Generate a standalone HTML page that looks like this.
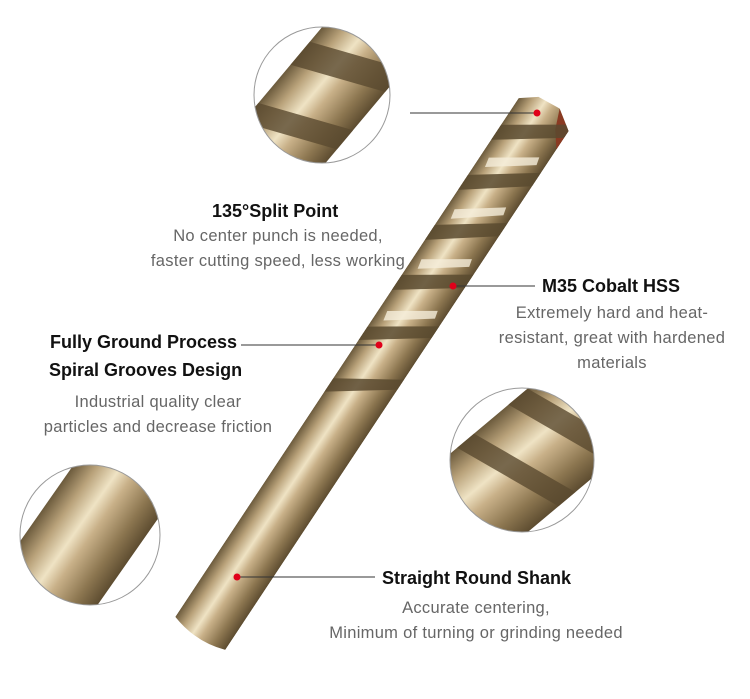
<!DOCTYPE html>
<html><head><meta charset="utf-8"><style>
html,body{margin:0;padding:0;background:#fff;}
body{width:750px;height:699px;position:relative;overflow:hidden;font-family:"Liberation Sans",Arial,sans-serif;}
.t{position:absolute;font-weight:bold;font-size:18px;color:#111;white-space:nowrap;}
.g{position:absolute;font-size:16.5px;color:#666;white-space:nowrap;line-height:25px;letter-spacing:0.3px;}
</style></head><body>
<svg width="750" height="699" style="position:absolute;left:0;top:0">
<defs>
<linearGradient id="sh" x1="0" x2="1" y1="0" y2="0">
<stop offset="0" stop-color="#6b5a3c"/><stop offset="0.2" stop-color="#b9a27a"/>
<stop offset="0.4" stop-color="#efe3c4"/><stop offset="0.55" stop-color="#c8b088"/>
<stop offset="0.8" stop-color="#8c7650"/><stop offset="1" stop-color="#5d4c30"/>
</linearGradient>
<clipPath id="c1"><circle cx="322" cy="95" r="68"/></clipPath>
<clipPath id="c2"><circle cx="90" cy="535" r="70"/></clipPath>
<clipPath id="c3"><circle cx="522" cy="460" r="72"/></clipPath>
<clipPath id="dr"><path d="M-14,-4 L10,-6 L30,8 L30,630 Q0,640 -30,630 L-30,8 Z"/></clipPath>
</defs>
<g transform="translate(548,108) rotate(33.5)">
<g clip-path="url(#dr)">
<rect x="-30" y="-10" width="60" height="650" fill="url(#sh)"/>
<path d="M10,-6 L30,8 L30,30 L18,14 Z" fill="#8a3a22"/>
<g fill="#5a4a30" opacity="0.85">
<path d="M-30,40 L30,0 L30,16 L-30,58 Z"/>
<path d="M-30,100 L30,58 L30,74 L-30,118 Z"/>
<path d="M-30,160 L30,118 L30,134 L-30,178 Z"/>
<path d="M-30,220 L30,180 L30,196 L-30,238 Z"/>
<path d="M-30,282 L30,242 L30,256 L-30,298 Z"/>
<path d="M-30,344 L30,306 L30,318 L-30,360 Z"/>
</g>
<g fill="#f6eedb" opacity="0.8">
<path d="M-22,74 L20,46 L22,54 L-20,84 Z"/>
<path d="M-22,136 L20,106 L22,114 L-20,146 Z"/>
<path d="M-22,196 L20,168 L22,176 L-20,206 Z"/>
<path d="M-22,258 L20,230 L22,238 L-20,268 Z"/>
</g>
</g>
</g>
<g clip-path="url(#c1)">
<g transform="translate(370,40) rotate(40)"><rect x="-45" y="-30" width="90" height="250" fill="url(#sh)"/>
<path d="M-45,40 L45,0 L45,30 L-45,70 Z" fill="#5a4a30" opacity="0.8"/>
<path d="M-45,120 L45,80 L45,105 L-45,145 Z" fill="#5a4a30" opacity="0.8"/>
<path d="M20,-30 L45,-30 L45,20 L25,5 Z" fill="#8a3a22"/></g>
</g>
<circle cx="322" cy="95" r="68" fill="none" stroke="#999" stroke-width="1"/>
<g clip-path="url(#c2)">
<g transform="translate(110,500) rotate(35)"><rect x="-50" y="-200" width="100" height="400" fill="url(#sh)"/></g>
</g>
<circle cx="90" cy="535" r="70" fill="none" stroke="#999" stroke-width="1"/>
<g clip-path="url(#c3)">
<g transform="translate(540,450) rotate(50)"><rect x="-55" y="-200" width="110" height="400" fill="url(#sh)"/>
<path d="M-55,-30 L55,-70 L55,-45 L-55,-5 Z" fill="#5a4a30" opacity="0.8"/>
<path d="M-55,40 L55,0 L55,22 L-55,62 Z" fill="#5a4a30" opacity="0.8"/></g>
</g>
<circle cx="522" cy="460" r="72" fill="none" stroke="#999" stroke-width="1"/>
<g stroke="#333" stroke-width="1">
<line x1="410" y1="113" x2="537" y2="113"/>
<line x1="453" y1="286" x2="535" y2="286"/>
<line x1="241" y1="345" x2="378" y2="345"/>
<line x1="237" y1="577" x2="375" y2="577"/>
</g>
<g fill="#e0001a">
<circle cx="537" cy="113" r="3.5"/><circle cx="453" cy="286" r="3.5"/>
<circle cx="379" cy="345" r="3.5"/><circle cx="237" cy="577" r="3.5"/>
</g>
</svg>
<div class="t" style="left:212px;top:201px">135°Split Point</div>
<div class="g" style="left:118px;top:224px;width:320px;text-align:center">No center punch is needed,<br>faster cutting speed, less working</div>
<div class="t" style="left:542px;top:276px">M35 Cobalt HSS</div>
<div class="g" style="left:470px;top:301px;width:284px;text-align:center">Extremely hard and heat-<br>resistant, great with hardened<br>materials</div>
<div class="t" style="left:50px;top:332px">Fully Ground Process</div>
<div class="t" style="left:49px;top:360px">Spiral Grooves Design</div>
<div class="g" style="left:18px;top:390px;width:280px;text-align:center">Industrial quality clear<br>particles and decrease friction</div>
<div class="t" style="left:382px;top:568px">Straight Round Shank</div>
<div class="g" style="left:276px;top:596px;width:400px;text-align:center">Accurate centering,<br>Minimum of turning or grinding needed</div>
</body></html>
